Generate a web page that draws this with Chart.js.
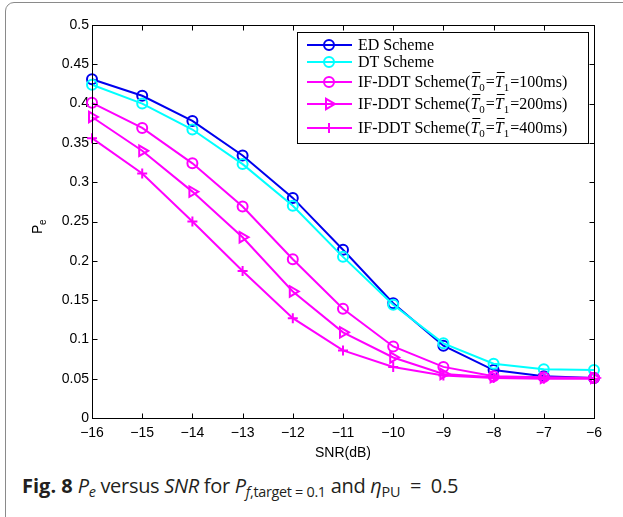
<!DOCTYPE html>
<html>
<head>
<meta charset="utf-8">
<script src="https://cdn.jsdelivr.net/npm/chart.js@4.4.0/dist/chart.umd.min.js"></script>
<style>
html, body { margin: 0; padding: 0; background: #fff; width: 623px; height: 517px; overflow: hidden; }
#frame { position: absolute; left: 5px; top: 2px; width: 640px; height: 560px; border: 1.5px solid #8a8a8a; border-radius: 9px; }
#chart { position: absolute; left: 0; top: 0; }
#caption { position: absolute; left: 22px; top: 472px; font-family: "Open Sans"; font-size: 20px; letter-spacing: -0.3px; color: #231f20; white-space: nowrap; }
#caption b { letter-spacing: 0; }
#caption sub { font-size: 0.72em; vertical-align: -0.25em; line-height: 0; }
</style>
</head>
<body>
<div id="frame"></div>
<canvas id="chart" width="623" height="470"></canvas>
<div id="caption"><b>Fig. 8</b> <i>P<sub>e</sub></i> versus <i>SNR</i> for <i>P</i><sub><i>f</i>,target = 0.1</sub> and <i>η</i><sub>PU</sub> &nbsp;= &nbsp;0.5</div>

<script>
'use strict';

var snr = [-16, -15, -14, -13, -12, -11, -10, -9, -8, -7, -6];
var edScheme = [0.431, 0.410, 0.378, 0.334, 0.280, 0.214, 0.146, 0.092, 0.061, 0.053, 0.051];
var dtScheme = [0.424, 0.400, 0.367, 0.323, 0.270, 0.205, 0.144, 0.095, 0.069, 0.062, 0.061];
var ifDdt100 = [0.401, 0.369, 0.324, 0.269, 0.202, 0.139, 0.091, 0.065, 0.053, 0.052, 0.051];
var ifDdt200 = [0.383, 0.340, 0.288, 0.230, 0.161, 0.109, 0.077, 0.056, 0.052, 0.051, 0.051];
var ifDdt400 = [0.356, 0.311, 0.250, 0.187, 0.127, 0.086, 0.065, 0.054, 0.051, 0.050, 0.050];
var seriesNames = ['ED Scheme', 'DT Scheme', 'IF-DDT Scheme(T_0=T_1=100ms)',
    'IF-DDT Scheme(T_0=T_1=200ms)', 'IF-DDT Scheme(T_0=T_1=400ms)'];
var xTicks = [-16, -15, -14, -13, -12, -11, -10, -9, -8, -7, -6];
var yTicks = [0, 0.05, 0.1, 0.15, 0.2, 0.25, 0.3, 0.35, 0.4, 0.45, 0.5];

var series = [edScheme, dtScheme, ifDdt100, ifDdt200, ifDdt400];
var colors = ['#0000ee', '#00ffff', '#ff00ff', '#ff00ff', '#ff00ff'];
var markers = ['circle', 'circle', 'circle', 'triangle', 'cross'];
var markerRot = [0, 0, 0, 90, 0];
var markerSize = [5, 5, 5, 6, 5];

var datasets = series.map(function (vals, i) {
    return {
        label: seriesNames[i],
        data: vals.map(function (v, j) { return { x: snr[j], y: v }; }),
        borderColor: colors[i],
        backgroundColor: 'rgba(0,0,0,0)',
        borderWidth: 2,
        pointStyle: markers[i],
        pointRotation: markerRot[i],
        pointRadius: markerSize[i],
        pointBorderWidth: 2,
        pointBorderColor: colors[i],
        pointBackgroundColor: 'rgba(0,0,0,0)',
        tension: 0,
        clip: false,
        order: series.length - i
    };
});

// overbar T with subscript, serif text
function drawRich(ctx, str, x, y, size) {
    var parts = str.split(/(T_\d)/);
    parts.forEach(function (p) {
        if (!p) return;
        if (/^T_\d$/.test(p)) {
            ctx.font = 'italic ' + size + 'px "Liberation Serif"';
            var w = ctx.measureText('T').width;
            ctx.fillText('T', x, y);
            ctx.fillRect(x + 2, Math.round(y - size * 0.95), w - 1, 1);
            x += w;
            ctx.font = Math.round(size * 0.7) + 'px "Liberation Serif"';
            ctx.fillText(p.charAt(2), x, y + size * 0.22);
            x += ctx.measureText(p.charAt(2)).width + 1;
        } else {
            ctx.font = size + 'px "Liberation Serif"';
            ctx.fillText(p, x, y);
            x += ctx.measureText(p).width;
        }
    });
}

var matlabAxes = {
    id: 'matlabAxes',
    afterDatasetsDraw: function (chart) {
        var ctx = chart.ctx, a = chart.chartArea;
        var xs = chart.scales.x, ys = chart.scales.y;
        var L = Math.round(a.left) + 0.5, R = Math.round(a.right) + 0.5;
        var T = Math.round(a.top) + 0.5, B = Math.round(a.bottom) + 0.5;
        ctx.save();
        ctx.strokeStyle = '#000';
        ctx.lineWidth = 1;
        ctx.strokeRect(L, T, R - L, B - T);
        ctx.beginPath();
        xTicks.forEach(function (t) {
            var px = Math.round(xs.getPixelForValue(t)) + 0.5;
            ctx.moveTo(px, B); ctx.lineTo(px, B - 5);
            ctx.moveTo(px, T); ctx.lineTo(px, T + 5);
        });
        yTicks.forEach(function (t) {
            var py = Math.round(ys.getPixelForValue(t)) + 0.5;
            ctx.moveTo(L, py); ctx.lineTo(L + 5, py);
            ctx.moveTo(R, py); ctx.lineTo(R - 5, py);
        });
        ctx.stroke();

        // y axis title P_e
        ctx.translate(37, 228);
        ctx.rotate(-Math.PI / 2);
        ctx.fillStyle = '#000';
        ctx.textBaseline = 'alphabetic';
        ctx.font = '14px "Liberation Sans"';
        ctx.fillText('P', -6, 5);
        ctx.font = '10px "Liberation Sans"';
        ctx.fillText('e', 3, 9);
        ctx.restore();

        // legend
        var bx = 297, by = 32, bw = 291, bh = 111;
        var rows = [45, 62, 82, 104, 128];
        ctx.save();
        ctx.fillStyle = '#fff';
        ctx.fillRect(bx, by, bw, bh);
        ctx.strokeStyle = '#000';
        ctx.lineWidth = 1;
        ctx.strokeRect(bx + 0.5, by + 0.5, bw, bh);
        chart.data.datasets.forEach(function (ds, i) {
            var y = rows[i];
            ctx.strokeStyle = ds.borderColor;
            ctx.lineWidth = 2;
            ctx.beginPath();
            ctx.moveTo(307, y); ctx.lineTo(352, y);
            ctx.stroke();
            ctx.fillStyle = 'rgba(0,0,0,0)';
            Chart.helpers.drawPoint(ctx, {
                pointStyle: ds.pointStyle, rotation: ds.pointRotation,
                radius: ds.pointRadius, borderWidth: 2
            }, 329, y);
            ctx.fillStyle = '#000';
            ctx.textBaseline = 'alphabetic';
            drawRich(ctx, ds.label, 358, y + 5, 16);
        });
        ctx.restore();
    }
};

new Chart(document.getElementById('chart'), {
    type: 'line',
    data: { datasets: datasets },
    options: {
        responsive: false,
        animation: false,
        devicePixelRatio: 1,
        layout: { padding: { left: 0, top: 25, right: 29, bottom: 0 } },
        plugins: { legend: { display: false }, tooltip: { enabled: false } },
        scales: {
            x: {
                type: 'linear', min: -16, max: -6,
                grid: { display: false, drawTicks: false },
                border: { display: false },
                afterBuildTicks: function (s) { s.ticks = xTicks.map(function (v) { return { value: v }; }); },
                afterFit: function (s) { s.height = 52; },
                ticks: {
                    color: '#000', padding: 7, maxRotation: 0, autoSkip: false,
                    font: { family: '"Liberation Sans"', size: 14 },
                    callback: function (v) { return v < 0 ? '\u2212' + Math.abs(v) : String(v); }
                },
                title: {
                    display: true, text: 'SNR(dB)', color: '#000',
                    font: { family: '"Liberation Sans"', size: 14 },
                    padding: { top: 0, bottom: 8 }
                }
            },
            y: {
                min: 0, max: 0.5,
                grid: { display: false, drawTicks: false },
                border: { display: false },
                afterBuildTicks: function (s) { s.ticks = yTicks.map(function (v) { return { value: v }; }); },
                afterFit: function (s) { s.width = 92; },
                ticks: {
                    color: '#000', padding: 3, autoSkip: false,
                    font: { family: '"Liberation Sans"', size: 14 },
                    callback: function (v) { return String(parseFloat(v.toFixed(2))); }
                }
            }
        }
    },
    plugins: [matlabAxes]
});
</script>
</body>
</html>
